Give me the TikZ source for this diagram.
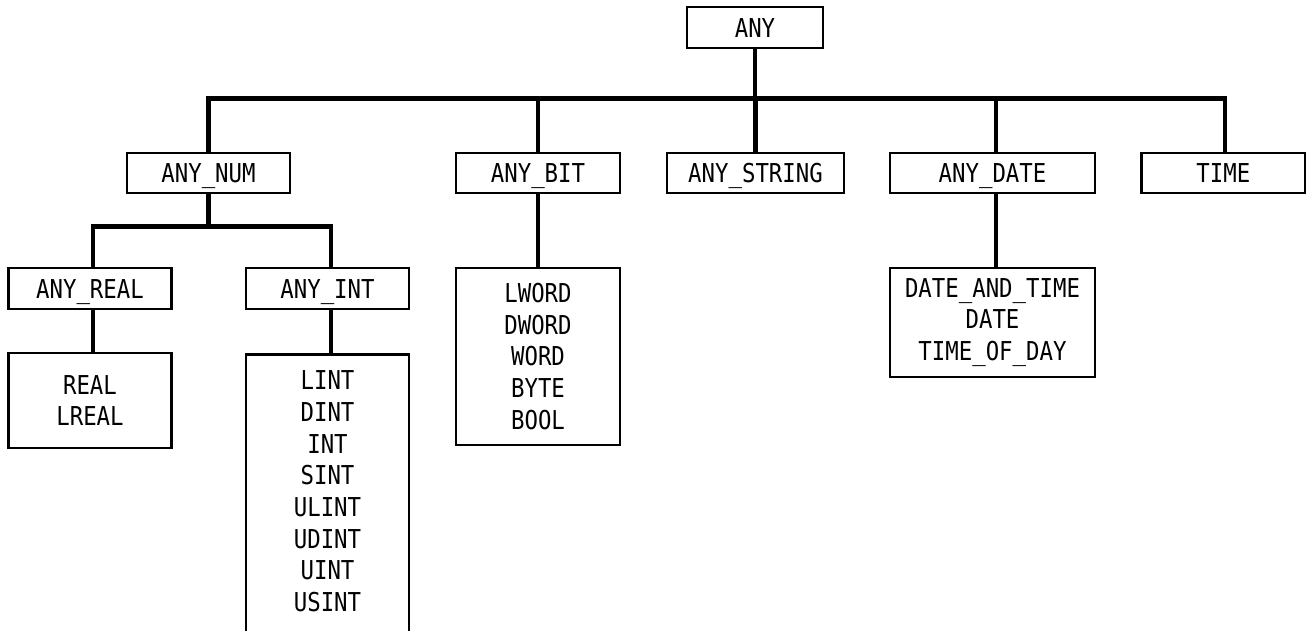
\documentclass[tikz,border=0pt]{standalone}
\usepackage{fontspec}
\newfontfamily\diafont[FakeStretch=0.86]{DejaVu Sans Mono}
\begin{document}
\begin{tikzpicture}[x=1pt,y=-1pt,
  box/.style={draw, line width=2.8pt, minimum height=41pt, inner sep=0pt,
    font=\diafont\fontsize{26}{31.7}\selectfont, align=center},
  one/.style={box, text height=19pt, text depth=0pt},
  txt/.style={inner sep=0pt, font=\diafont\fontsize{26}{31.7}\selectfont, align=center},
  link/.style={line width=4.6pt}]
\clip (0,0) rectangle (1311,630);
\fill[white] (0,0) rectangle (1311,630);
% level 0
\node[one, minimum width=136pt] (any) at (755,27.5) {ANY};
% level 1
\node[one, minimum width=163pt, minimum height=40pt] (anynum) at (208.5,173) {ANY\_NUM};
\node[one, minimum width=164pt, minimum height=40pt] (anybit) at (538,173) {ANY\_BIT};
\node[one, minimum width=177pt, minimum height=40pt] (anystring) at (755.5,173) {ANY\_STRING};
\node[one, minimum width=205pt, minimum height=40pt] (anydate) at (992.5,173) {ANY\_DATE};
\node[one, minimum width=163.5pt, minimum height=40pt] (time) at (1223.3,173) {TIME};
% level 2
\node[one, minimum width=163pt] (anyreal) at (90,288.5) {ANY\_REAL};
\node[one, minimum width=163pt] (anyint) at (327.5,288.5) {ANY\_INT};
% leaves
\node[box, minimum width=163pt, minimum height=95pt] (real) at (90,400.5) {REAL\\LREAL};
\node[box, minimum width=163pt, minimum height=320pt, anchor=north] (lint) at (327.5,353) {};
\node[txt, anchor=north] (lintt) at ([yshift=-17.5pt]lint.north) {LINT\\DINT\\INT\\SINT\\ULINT\\UDINT\\UINT\\USINT};
\node[box, minimum width=164pt, minimum height=177pt] (lword) at (538,356.5) {LWORD\\DWORD\\WORD\\BYTE\\BOOL};
\node[box, minimum width=205pt, minimum height=109pt] (date) at (992.5,322.5) {DATE\_AND\_TIME\\DATE\\TIME\_OF\_DAY};
% connectors
\coordinate (bus) at (0,98.7);
\coordinate (sub) at (0,226.5);
\draw[link] (any.south) -- (any.south |- bus);
\draw[link] (anynum.north) |- ([xshift=1.7pt]time.north |- bus) -- ([xshift=1.7pt]time.north);
\draw[link] (anybit.north |- bus) -- (anybit.north);
\draw[link] (anystring.north |- bus) -- (anystring.north);
\draw[link] ([xshift=3.5pt]anydate.north |- bus) -- ([xshift=3.5pt]anydate.north);
\draw[link] (anynum.south) -- (anynum.south |- sub);
\draw[link] ([xshift=3pt]anyreal.north) |- ([xshift=3.5pt]anyint.north |- sub) -- ([xshift=3.5pt]anyint.north);
\draw[link] ([xshift=3pt]anyreal.south) -- ([xshift=3pt]real.north);
\draw[link] ([xshift=3.5pt]anyint.south) -- ([xshift=3.5pt]lint.north);
\draw[link] (anybit.south) -- (lword.north);
\draw[link] ([xshift=3.5pt]anydate.south) -- ([xshift=3.5pt]date.north);
\end{tikzpicture}
\end{document}
